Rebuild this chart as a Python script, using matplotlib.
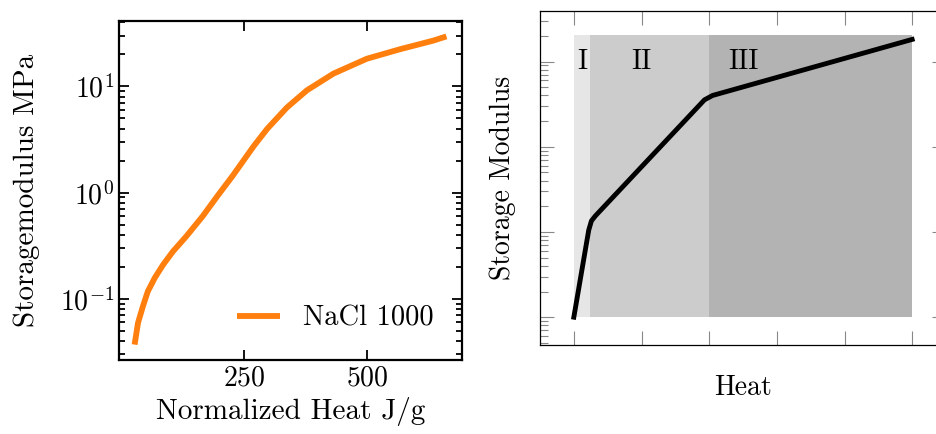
import numpy as np
import matplotlib
matplotlib.use("Agg")
import matplotlib.pyplot as plt
from matplotlib.ticker import LogLocator, NullFormatter

plt.rcParams['font.family'] = 'serif'
plt.rcParams['font.serif'] = ['cmr10']
plt.rcParams['mathtext.fontset'] = 'cm'
plt.rcParams['axes.unicode_minus'] = False
plt.rcParams['axes.formatter.use_mathtext'] = True

heat = [27, 34, 44, 54, 68, 85, 105, 132, 166, 196, 227, 250, 270, 297,
        337, 378, 432, 500, 568, 635, 662]
log_mod = [-1.43, -1.225, -1.069, -0.929, -0.803, -0.679, -0.554, -0.413,
           -0.22, -0.03, 0.16, 0.31, 0.44, 0.6, 0.8, 0.963, 1.12,
           1.26, 1.35, 1.43, 1.47]
modulus = [10 ** v for v in log_mod]

# right panel: schematic
sch_x = [0.0, 0.22, 0.26, 0.32, 1.93, 2.05, 5.0]
sch_y = [1.0, 10.5, 13.5, 15.5, 355, 400, 1820]
region_edges = [0.0, 0.24, 2.0, 5.0]
region_colors = ['#e6e6e6', '#cccccc', '#b3b3b3']
region_names = ['I', 'II', 'III']
region_label_x = [0.12, 1.0, 2.5]
region_top = 2040

fig = plt.figure(figsize=(9.36, 4.34), dpi=100)

# ---- left panel
ax1 = fig.add_axes([119/936, 1-360/434, (462-119)/936, (360-21)/434])
ax1.semilogy(heat, modulus, color='#ff7f0e', lw=4.2, label='NaCl 1000',
             solid_capstyle='butt', solid_joinstyle='round')
ax1.set_xticks([250, 500])
ax1.tick_params(which='both', direction='in', top=True, right=True, width=1.3, labelsize=20)
ax1.tick_params(which='major', length=7)
ax1.tick_params(which='minor', length=4)
for s in ax1.spines.values():
    s.set_linewidth(1.6)
ax1.set_xlabel('Normalized Heat J/g', fontsize=21, labelpad=4)
ax1.set_ylabel('Storagemodulus MPa', fontsize=21, labelpad=14)
ax1.legend(loc='lower right', frameon=False, fontsize=20.5, handlelength=1.5,
           borderaxespad=0.6)

# ---- right panel
ax2 = fig.add_axes([540/936, 1-345.3/434, 406/936, (345.3-11.3)/434])
for i in range(len(region_colors)):
    ax2.fill_between([region_edges[i], region_edges[i+1]], 1, region_top,
                     color=region_colors[i], lw=0, zorder=0)
    ax2.text(region_label_x[i], 1000, region_names[i], fontsize=20,
             ha='center', va='center')
ax2.plot(sch_x, sch_y, color='black', lw=3.5, solid_joinstyle='round', zorder=3)
ax2.set_yscale('log')
ax2.set_xlim(-0.5, 5.5)
ax2.set_ylim(10**-0.33, 10**3.59)
ax2.set_xticks(np.arange(0, 6))
ax2.yaxis.set_major_locator(LogLocator(base=10, numticks=10))
ax2.yaxis.set_minor_locator(LogLocator(base=10, subs=np.arange(2, 10), numticks=10))
ax2.set_xticklabels([])
ax2.yaxis.set_major_formatter(NullFormatter())
ax2.yaxis.set_minor_formatter(NullFormatter())
ax2.tick_params(which='both', direction='in', top=True, right=True, color='#888888', width=0.8)
ax2.tick_params(which='major', length=10)
ax2.tick_params(which='minor', length=6)
for s in ax2.spines.values():
    s.set_linewidth(0.9)
ax2.set_xlabel('Heat', fontsize=20, labelpad=18)
ax2.set_ylabel('Storage Modulus', fontsize=20, labelpad=14)

fig.savefig('out.png', dpi=100)
